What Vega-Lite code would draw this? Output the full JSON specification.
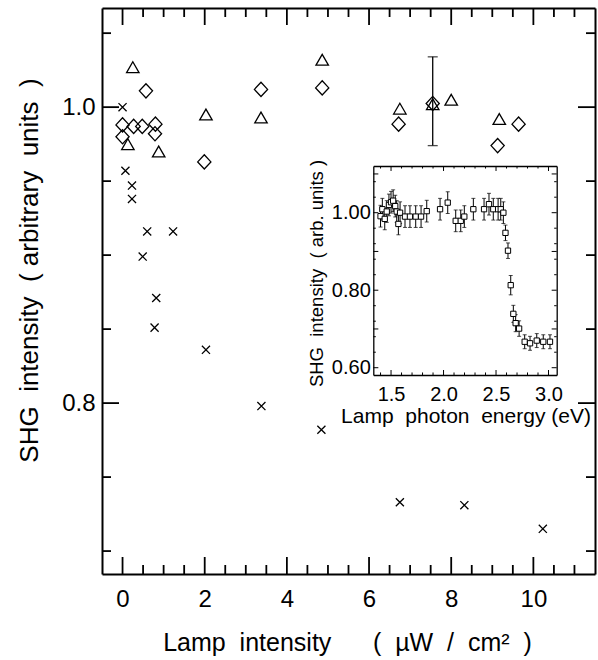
{
  "$schema": "https://vega.github.io/schema/vega-lite/v6.json",
  "width": 493,
  "height": 566,
  "autosize": {"type": "none"},
  "padding": {"left": 102, "top": 8, "right": 3, "bottom": 86},
  "background": "white",
  "config": {
    "view": {"stroke": null},
    "font": "Liberation Sans",
    "axis": {
      "grid": false, "labelFlush": false, "labelOverlap": false,
      "domainColor": "black", "tickColor": "black", "labelColor": "black", "titleColor": "black",
      "labelFont": "Liberation Sans", "titleFont": "Liberation Sans", "titleFontWeight": "normal"
    }
  },
  "datasets": {
    "main": [
      {"series": "cross", "x": 0.0, "y": 1.0},
      {"series": "cross", "x": 0.07, "y": 0.957},
      {"series": "cross", "x": 0.23, "y": 0.947},
      {"series": "cross", "x": 0.23, "y": 0.938},
      {"series": "cross", "x": 0.6, "y": 0.916},
      {"series": "cross", "x": 1.23, "y": 0.916},
      {"series": "cross", "x": 0.49, "y": 0.899},
      {"series": "cross", "x": 0.82, "y": 0.871},
      {"series": "cross", "x": 0.78, "y": 0.851},
      {"series": "cross", "x": 2.03, "y": 0.836},
      {"series": "cross", "x": 3.38, "y": 0.798},
      {"series": "cross", "x": 4.84, "y": 0.782},
      {"series": "cross", "x": 6.75, "y": 0.733},
      {"series": "cross", "x": 8.32, "y": 0.731},
      {"series": "cross", "x": 10.23, "y": 0.715},
      {"series": "tri", "x": 0.25, "y": 1.027},
      {"series": "tri", "x": 0.13, "y": 0.975},
      {"series": "tri", "x": 0.88, "y": 0.970},
      {"series": "tri", "x": 2.03, "y": 0.995},
      {"series": "tri", "x": 3.37, "y": 0.993},
      {"series": "tri", "x": 4.86, "y": 1.032},
      {"series": "tri", "x": 6.75, "y": 0.999},
      {"series": "tri", "x": 7.55, "y": 1.002},
      {"series": "tri", "x": 8.0, "y": 1.005},
      {"series": "tri", "x": 9.17, "y": 0.992},
      {"series": "dia", "x": 0.57, "y": 1.011},
      {"series": "dia", "x": 0.0, "y": 0.988},
      {"series": "dia", "x": 0.27, "y": 0.987},
      {"series": "dia", "x": 0.48, "y": 0.987},
      {"series": "dia", "x": 0.8, "y": 0.9885},
      {"series": "dia", "x": 0.79, "y": 0.982},
      {"series": "dia", "x": 0.0, "y": 0.980},
      {"series": "dia", "x": 1.99, "y": 0.963},
      {"series": "dia", "x": 3.37, "y": 1.012},
      {"series": "dia", "x": 4.86, "y": 1.013},
      {"series": "dia", "x": 6.72, "y": 0.9885},
      {"series": "dia", "x": 7.55, "y": 1.0025},
      {"series": "dia", "x": 9.13, "y": 0.974},
      {"series": "dia", "x": 9.64, "y": 0.9885}
    ],
    "mainerr": [
      {"x": 7.55, "lo": 0.974, "hi": 1.034}
    ],
    "inset": [
      {"e": 1.40, "v": 0.991, "err": 0.028},
      {"e": 1.417, "v": 1.009, "err": 0.028},
      {"e": 1.44, "v": 0.984, "err": 0.028},
      {"e": 1.459, "v": 1.003, "err": 0.028},
      {"e": 1.48, "v": 1.020, "err": 0.028},
      {"e": 1.50, "v": 1.027, "err": 0.028},
      {"e": 1.52, "v": 1.031, "err": 0.028},
      {"e": 1.54, "v": 1.017, "err": 0.028},
      {"e": 1.554, "v": 1.003, "err": 0.028},
      {"e": 1.57, "v": 0.971, "err": 0.028},
      {"e": 1.586, "v": 1.000, "err": 0.028},
      {"e": 1.633, "v": 0.990, "err": 0.028},
      {"e": 1.68, "v": 0.990, "err": 0.028},
      {"e": 1.735, "v": 0.990, "err": 0.028},
      {"e": 1.786, "v": 0.990, "err": 0.028},
      {"e": 1.84, "v": 1.004, "err": 0.028},
      {"e": 1.967, "v": 1.009, "err": 0.028},
      {"e": 2.04, "v": 1.026, "err": 0.028},
      {"e": 2.116, "v": 0.979, "err": 0.028},
      {"e": 2.164, "v": 0.979, "err": 0.028},
      {"e": 2.198, "v": 0.990, "err": 0.028},
      {"e": 2.284, "v": 1.009, "err": 0.028},
      {"e": 2.386, "v": 1.009, "err": 0.028},
      {"e": 2.433, "v": 1.022, "err": 0.028},
      {"e": 2.474, "v": 1.009, "err": 0.028},
      {"e": 2.52, "v": 1.009, "err": 0.028},
      {"e": 2.545, "v": 1.009, "err": 0.028},
      {"e": 2.57, "v": 1.000, "err": 0.028},
      {"e": 2.59, "v": 0.948, "err": 0.02},
      {"e": 2.614, "v": 0.902, "err": 0.02},
      {"e": 2.64, "v": 0.813, "err": 0.025},
      {"e": 2.665, "v": 0.739, "err": 0.022},
      {"e": 2.687, "v": 0.715, "err": 0.022},
      {"e": 2.72, "v": 0.701, "err": 0.02},
      {"e": 2.773, "v": 0.667, "err": 0.018},
      {"e": 2.824, "v": 0.663, "err": 0.018},
      {"e": 2.888, "v": 0.670, "err": 0.018},
      {"e": 2.95, "v": 0.667, "err": 0.018},
      {"e": 3.014, "v": 0.667, "err": 0.018}
    ]
  },
  "layer": [
    {
      "layer": [
        {
          "mark": {"type": "rule", "strokeDash": [10, 5], "strokeWidth": 1.3, "color": "black"},
          "encoding": {
            "y": {"datum": 1.0, "type": "quantitative", "scale": {"domain": [0.6845, 1.067], "nice": false, "zero": false}, "axis": null}
          }
        },
        {
          "data": {"name": "main"},
          "mark": {"type": "point", "filled": false, "color": "black", "strokeWidth": 1.3, "size": 155, "opacity": 1},
          "encoding": {
            "x": {
              "field": "x", "type": "quantitative",
              "scale": {"domain": [-0.5, 11.5], "nice": false, "zero": false},
              "axis": {
                "orient": "bottom",
                "values": [0, 2, 4, 6, 8, 10],
                "ticks": false, "tickSize": 0, "domainWidth": 2,
                "format": "d",
                "labelFontSize": 24, "labelPadding": 13,
                "title": "Lamp\u00a0 intensity\u00a0 \u00a0 \u00a0 (\u00a0 µW\u00a0 /\u00a0 cm²\u00a0 )",
                "titleFontSize": 25, "titleX": 245, "titleY": 76, "titleBaseline": "alphabetic", "titleAlign": "center"
              }
            },
            "y": {
              "field": "y", "type": "quantitative",
              "scale": {"domain": [0.6845, 1.067], "nice": false, "zero": false},
              "axis": {
                "orient": "left",
                "values": [0.8, 1.0],
                "ticks": false, "tickSize": 0, "domainWidth": 2,
                "format": ".1f",
                "labelFontSize": 24, "labelPadding": 7,
                "title": "SHG\u00a0 intensity\u00a0 ( arbitrary\u00a0 units\u00a0 )",
                "titleFontSize": 26, "titleX": -65, "titleY": 262, "titleAngle": 270, "titleBaseline": "alphabetic", "titleAlign": "center"
              }
            },
            "shape": {
              "field": "series", "type": "nominal", "legend": null,
              "scale": {
                "domain": ["cross", "tri", "dia"],
                "range": [
                  "M-0.65,-0.65L0.65,0.65M-0.65,0.65L0.65,-0.65",
                  "M0,-0.87L1,0.87L-1,0.87Z",
                  "M0,-1.14L1.06,0L0,1.14L-1.06,0Z"
                ]
              }
            }
          }
        },
        {
          "data": {"name": "mainerr"},
          "mark": {"type": "errorbar", "ticks": {"size": 10}, "color": "black", "thickness": 1.3},
          "encoding": {
            "x": {
              "field": "x", "type": "quantitative",
              "scale": {"domain": [-0.5, 11.5], "nice": false, "zero": false},
              "axis": {"orient": "top", "ticks": false, "labels": false, "domainWidth": 2, "title": null}
            },
            "y": {
              "field": "lo", "type": "quantitative",
              "scale": {"domain": [0.6845, 1.067], "nice": false, "zero": false},
              "axis": {"orient": "right", "ticks": false, "labels": false, "domainWidth": 2, "title": null}
            },
            "y2": {"field": "hi"}
          }
        },
        {
          "data": {"values": [{"t": 0, "a": 0.6845, "b": 0.696}, {"t": 2, "a": 0.6845, "b": 0.696}, {"t": 4, "a": 0.6845, "b": 0.696}, {"t": 6, "a": 0.6845, "b": 0.696}, {"t": 8, "a": 0.6845, "b": 0.696}, {"t": 10, "a": 0.6845, "b": 0.696},
            {"t": 0, "a": 1.067, "b": 1.0555}, {"t": 2, "a": 1.067, "b": 1.0555}, {"t": 4, "a": 1.067, "b": 1.0555}, {"t": 6, "a": 1.067, "b": 1.0555}, {"t": 8, "a": 1.067, "b": 1.0555}, {"t": 10, "a": 1.067, "b": 1.0555},
            {"t": 0.5, "a": 0.6845, "b": 0.6906}, {"t": 1, "a": 0.6845, "b": 0.6906}, {"t": 1.5, "a": 0.6845, "b": 0.6906}, {"t": 2.5, "a": 0.6845, "b": 0.6906}, {"t": 3, "a": 0.6845, "b": 0.6906}, {"t": 3.5, "a": 0.6845, "b": 0.6906}, {"t": 4.5, "a": 0.6845, "b": 0.6906}, {"t": 5, "a": 0.6845, "b": 0.6906}, {"t": 5.5, "a": 0.6845, "b": 0.6906}, {"t": 6.5, "a": 0.6845, "b": 0.6906}, {"t": 7, "a": 0.6845, "b": 0.6906}, {"t": 7.5, "a": 0.6845, "b": 0.6906}, {"t": 8.5, "a": 0.6845, "b": 0.6906}, {"t": 9, "a": 0.6845, "b": 0.6906}, {"t": 9.5, "a": 0.6845, "b": 0.6906}, {"t": 10.5, "a": 0.6845, "b": 0.6906}, {"t": 11, "a": 0.6845, "b": 0.6906},
            {"t": 0.5, "a": 1.067, "b": 1.0609}, {"t": 1, "a": 1.067, "b": 1.0609}, {"t": 1.5, "a": 1.067, "b": 1.0609}, {"t": 2.5, "a": 1.067, "b": 1.0609}, {"t": 3, "a": 1.067, "b": 1.0609}, {"t": 3.5, "a": 1.067, "b": 1.0609}, {"t": 4.5, "a": 1.067, "b": 1.0609}, {"t": 5, "a": 1.067, "b": 1.0609}, {"t": 5.5, "a": 1.067, "b": 1.0609}, {"t": 6.5, "a": 1.067, "b": 1.0609}, {"t": 7, "a": 1.067, "b": 1.0609}, {"t": 7.5, "a": 1.067, "b": 1.0609}, {"t": 8.5, "a": 1.067, "b": 1.0609}, {"t": 9, "a": 1.067, "b": 1.0609}, {"t": 9.5, "a": 1.067, "b": 1.0609}, {"t": 10.5, "a": 1.067, "b": 1.0609}, {"t": 11, "a": 1.067, "b": 1.0609}]},
          "mark": {"type": "rule", "strokeWidth": 1.8, "color": "black", "opacity": 1},
          "encoding": {
            "x": {"field": "t", "type": "quantitative", "scale": {"domain": [-0.5, 11.5], "nice": false, "zero": false}, "axis": null},
            "y": {"field": "a", "type": "quantitative", "scale": {"domain": [0.6845, 1.067], "nice": false, "zero": false}, "axis": null},
            "y2": {"field": "b"}
          }
        },
        {
          "data": {"values": [{"t": 0.8, "a": -0.5, "b": -0.086}, {"t": 1.0, "a": -0.5, "b": -0.086}, {"t": 0.8, "a": 11.5, "b": 11.086}, {"t": 1.0, "a": 11.5, "b": 11.086},
            {"t": 0.7, "a": -0.5, "b": -0.281}, {"t": 0.75, "a": -0.5, "b": -0.281}, {"t": 0.85, "a": -0.5, "b": -0.281}, {"t": 0.9, "a": -0.5, "b": -0.281}, {"t": 0.95, "a": -0.5, "b": -0.281}, {"t": 1.05, "a": -0.5, "b": -0.281},
            {"t": 0.7, "a": 11.5, "b": 11.281}, {"t": 0.75, "a": 11.5, "b": 11.281}, {"t": 0.85, "a": 11.5, "b": 11.281}, {"t": 0.9, "a": 11.5, "b": 11.281}, {"t": 0.95, "a": 11.5, "b": 11.281}, {"t": 1.05, "a": 11.5, "b": 11.281}]},
          "mark": {"type": "rule", "strokeWidth": 1.8, "color": "black", "opacity": 1},
          "encoding": {
            "y": {"field": "t", "type": "quantitative", "scale": {"domain": [0.6845, 1.067], "nice": false, "zero": false}, "axis": null},
            "x": {"field": "a", "type": "quantitative", "scale": {"domain": [-0.5, 11.5], "nice": false, "zero": false}, "axis": null},
            "x2": {"field": "b"}
          }
        }
      ],
      "resolve": {"axis": {"x": "independent", "y": "independent"}}
    },
    {
      "layer": [
        {
          "data": {"name": "inset"},
          "mark": {"type": "errorbar", "ticks": {"size": 4}, "color": "black", "thickness": 1},
          "encoding": {
            "x": {
              "field": "e", "type": "quantitative",
              "scale": {"domain": [1.331, 3.078], "range": [271.3, 454.7], "nice": false, "zero": false},
              "axis": {
                "orient": "bottom", "offset": -199,
                "values": [1.5, 2.0, 2.5, 3.0],
                "ticks": false, "tickSize": 0, "domainWidth": 1.3,
                "format": ".1f",
                "labelFontSize": 20, "labelPadding": 9.5,
                "title": "Lamp\u00a0 photon\u00a0 energy (eV)",
                "titleFontSize": 21, "titleX": 363.5, "titleY": 47, "titleBaseline": "alphabetic", "titleAlign": "center"
              }
            },
            "y": {
              "field": "v", "type": "quantitative",
              "scale": {"domain": [0.5812, 1.1205], "range": [367, 158], "nice": false, "zero": false},
              "axis": {
                "orient": "left", "offset": -271.3,
                "values": [0.6, 0.8, 1.0],
                "ticks": false, "tickSize": 0, "domainWidth": 1.3,
                "format": ".2f",
                "labelFontSize": 20, "labelPadding": 3,
                "title": "SHG\u00a0 intensity\u00a0 ( arb. units )",
                "titleFontSize": 18.5, "titleX": -51, "titleY": 265, "titleAngle": 270, "titleBaseline": "alphabetic", "titleAlign": "center"
              }
            },
            "yError": {"field": "err"}
          }
        },
        {
          "data": {"name": "inset"},
          "mark": {"type": "point", "shape": "square", "size": 28, "filled": true, "fill": "white", "stroke": "black", "strokeWidth": 1, "opacity": 1},
          "encoding": {
            "x": {
              "field": "e", "type": "quantitative",
              "scale": {"domain": [1.331, 3.078], "range": [271.3, 454.7], "nice": false, "zero": false},
              "axis": {"orient": "top", "offset": -158, "ticks": false, "labels": false, "domainWidth": 1.3, "title": null}
            },
            "y": {
              "field": "v", "type": "quantitative",
              "scale": {"domain": [0.5812, 1.1205], "range": [367, 158], "nice": false, "zero": false},
              "axis": {"orient": "right", "offset": -38.3, "ticks": false, "labels": false, "domainWidth": 1.3, "title": null}
            }
          }
        },
        {
          "data": {"values": [{"t": 1.5, "a": 0.5812, "b": 0.5941}, {"t": 2.0, "a": 0.5812, "b": 0.5941}, {"t": 2.5, "a": 0.5812, "b": 0.5941}, {"t": 3.0, "a": 0.5812, "b": 0.5941},
            {"t": 1.5, "a": 1.1205, "b": 1.1076}, {"t": 2.0, "a": 1.1205, "b": 1.1076}, {"t": 2.5, "a": 1.1205, "b": 1.1076}, {"t": 3.0, "a": 1.1205, "b": 1.1076},
            {"t": 1.4, "a": 0.5812, "b": 0.5877}, {"t": 1.6, "a": 0.5812, "b": 0.5877}, {"t": 1.7, "a": 0.5812, "b": 0.5877}, {"t": 1.8, "a": 0.5812, "b": 0.5877}, {"t": 1.9, "a": 0.5812, "b": 0.5877}, {"t": 2.1, "a": 0.5812, "b": 0.5877}, {"t": 2.2, "a": 0.5812, "b": 0.5877}, {"t": 2.3, "a": 0.5812, "b": 0.5877}, {"t": 2.4, "a": 0.5812, "b": 0.5877}, {"t": 2.6, "a": 0.5812, "b": 0.5877}, {"t": 2.7, "a": 0.5812, "b": 0.5877}, {"t": 2.8, "a": 0.5812, "b": 0.5877}, {"t": 2.9, "a": 0.5812, "b": 0.5877},
            {"t": 1.4, "a": 1.1205, "b": 1.114}, {"t": 1.6, "a": 1.1205, "b": 1.114}, {"t": 1.7, "a": 1.1205, "b": 1.114}, {"t": 1.8, "a": 1.1205, "b": 1.114}, {"t": 1.9, "a": 1.1205, "b": 1.114}, {"t": 2.1, "a": 1.1205, "b": 1.114}, {"t": 2.2, "a": 1.1205, "b": 1.114}, {"t": 2.3, "a": 1.1205, "b": 1.114}, {"t": 2.4, "a": 1.1205, "b": 1.114}, {"t": 2.6, "a": 1.1205, "b": 1.114}, {"t": 2.7, "a": 1.1205, "b": 1.114}, {"t": 2.8, "a": 1.1205, "b": 1.114}, {"t": 2.9, "a": 1.1205, "b": 1.114}]},
          "mark": {"type": "rule", "strokeWidth": 1, "color": "black", "opacity": 1},
          "encoding": {
            "x": {"field": "t", "type": "quantitative", "scale": {"domain": [1.331, 3.078], "range": [271.3, 454.7], "nice": false, "zero": false}, "axis": null},
            "y": {"field": "a", "type": "quantitative", "scale": {"domain": [0.5812, 1.1205], "range": [367, 158], "nice": false, "zero": false}, "axis": null},
            "y2": {"field": "b"}
          }
        },
        {
          "data": {"values": [{"t": 0.6, "a": 1.331, "b": 1.379}, {"t": 0.7, "a": 1.331, "b": 1.379}, {"t": 0.8, "a": 1.331, "b": 1.379}, {"t": 0.9, "a": 1.331, "b": 1.379}, {"t": 1.0, "a": 1.331, "b": 1.379}, {"t": 1.1, "a": 1.331, "b": 1.379},
            {"t": 0.6, "a": 3.078, "b": 3.03}, {"t": 0.7, "a": 3.078, "b": 3.03}, {"t": 0.8, "a": 3.078, "b": 3.03}, {"t": 0.9, "a": 3.078, "b": 3.03}, {"t": 1.0, "a": 3.078, "b": 3.03}, {"t": 1.1, "a": 3.078, "b": 3.03},
            {"t": 0.64, "a": 1.331, "b": 1.355}, {"t": 0.68, "a": 1.331, "b": 1.355}, {"t": 0.72, "a": 1.331, "b": 1.355}, {"t": 0.76, "a": 1.331, "b": 1.355}, {"t": 0.84, "a": 1.331, "b": 1.355}, {"t": 0.88, "a": 1.331, "b": 1.355}, {"t": 0.92, "a": 1.331, "b": 1.355}, {"t": 0.96, "a": 1.331, "b": 1.355}, {"t": 1.04, "a": 1.331, "b": 1.355}, {"t": 1.08, "a": 1.331, "b": 1.355},
            {"t": 0.64, "a": 3.078, "b": 3.054}, {"t": 0.68, "a": 3.078, "b": 3.054}, {"t": 0.72, "a": 3.078, "b": 3.054}, {"t": 0.76, "a": 3.078, "b": 3.054}, {"t": 0.84, "a": 3.078, "b": 3.054}, {"t": 0.88, "a": 3.078, "b": 3.054}, {"t": 0.92, "a": 3.078, "b": 3.054}, {"t": 0.96, "a": 3.078, "b": 3.054}, {"t": 1.04, "a": 3.078, "b": 3.054}, {"t": 1.08, "a": 3.078, "b": 3.054}]},
          "mark": {"type": "rule", "strokeWidth": 1, "color": "black", "opacity": 1},
          "encoding": {
            "y": {"field": "t", "type": "quantitative", "scale": {"domain": [0.5812, 1.1205], "range": [367, 158], "nice": false, "zero": false}, "axis": null},
            "x": {"field": "a", "type": "quantitative", "scale": {"domain": [1.331, 3.078], "range": [271.3, 454.7], "nice": false, "zero": false}, "axis": null},
            "x2": {"field": "b"}
          }
        }
      ],
      "resolve": {"axis": {"x": "independent", "y": "independent"}}
    }
  ],
  "resolve": {"scale": {"x": "independent", "y": "independent"}, "axis": {"x": "independent", "y": "independent"}}
}
